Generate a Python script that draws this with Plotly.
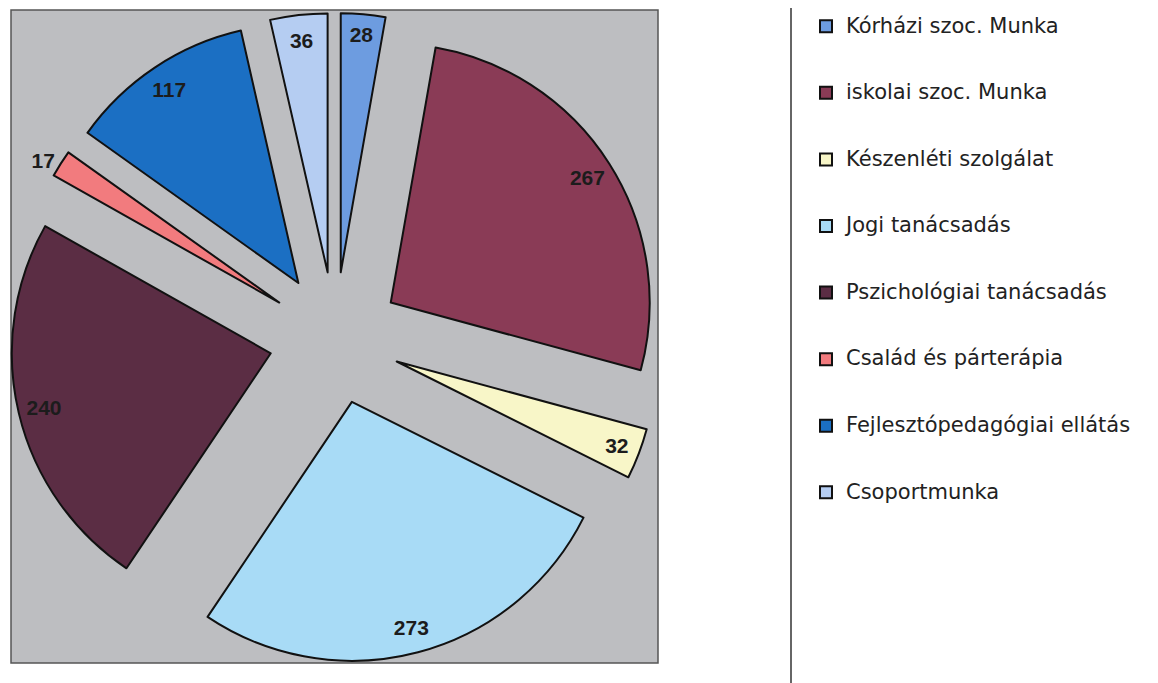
import plotly.graph_objects as go

# ---- data ----
labels = [
    "Kórházi szoc. Munka",
    "iskolai szoc. Munka",
    "Készenléti szolgálat",
    "Jogi tanácsadás",
    "Pszichológiai tanácsadás",
    "Család és párterápia",
    "Fejlesztópedagógiai ellátás",
    "Csoportmunka",
]
values = [28, 267, 32, 273, 240, 17, 117, 36]
colors = ["#6d9ce0", "#8a3b56", "#f8f6c8", "#a8dbf6", "#5b2d44", "#f27b7e", "#1b6fc3", "#b5cdf2"]
label_positions = ["inside", "inside", "inside", "inside", "inside", "outside", "inside", "inside"]

# page body has an 8px margin, so the figure is drawn 8px in from the corner
W, H = 1150, 675
OFF = 8


def px_x(x):
    return (x - OFF) / W


def px_y(y):
    return 1 - (y - OFF) / H


pull = 0.255
dom_x = [px_x(10), px_x(660)]
dom_y = [px_y(663), px_y(13)]

legend_labels = [
    '&#160;<br><span style="font-size:21px">%s</span><br>&#160;' % l for l in labels
]

fig = go.Figure()

# the slices
fig.add_trace(go.Pie(
    labels=legend_labels,
    values=values,
    sort=False,
    direction="clockwise",
    rotation=0,
    pull=pull,
    marker=dict(colors=colors, line=dict(color="#111111", width=2)),
    textinfo="none",
    domain=dict(x=dom_x, y=dom_y),
    showlegend=True,
    hoverinfo="value",
))

# value labels (thin transparent ring so the numbers sit near the rim)
fig.add_trace(go.Pie(
    labels=labels,
    values=values,
    sort=False,
    direction="clockwise",
    rotation=0,
    pull=pull,
    hole=0.8,
    marker=dict(colors=["rgba(0,0,0,0)"] * len(values), line=dict(width=0)),
    texttemplate="%{value}",
    textposition=label_positions,
    insidetextorientation="horizontal",
    textfont=dict(family="Liberation Sans, Arial, sans-serif", size=21, color="#1c1c1c", weight="bold"),
    domain=dict(x=dom_x, y=dom_y),
    showlegend=False,
    hoverinfo="skip",
))

fig.update_layout(
    width=W,
    height=H,
    margin=dict(l=0, r=0, t=0, b=0, autoexpand=False),
    paper_bgcolor="white",
    font=dict(family="DejaVu Sans, sans-serif"),
    legend=dict(
        x=px_x(806),
        xanchor="left",
        y=1 + 20 / H,
        yanchor="top",
        valign="middle",
        itemwidth=30,
        maxheight=2000,
        font=dict(family="DejaVu Sans, sans-serif", size=16.3, color="#222222"),
        bgcolor="rgba(0,0,0,0)",
        traceorder="normal",
    ),
    shapes=[
        dict(type="rect", xref="paper", yref="paper",
             x0=px_x(11), x1=px_x(658), y0=px_y(663), y1=px_y(10),
             fillcolor="#bdbec1", line=dict(color="#555555", width=1.5), layer="below"),
        dict(type="line", xref="paper", yref="paper",
             x0=px_x(791), x1=px_x(791), y0=0, y1=1.05,
             line=dict(color="#333333", width=1.5)),
    ],
)

fig.write_html("out.html")
